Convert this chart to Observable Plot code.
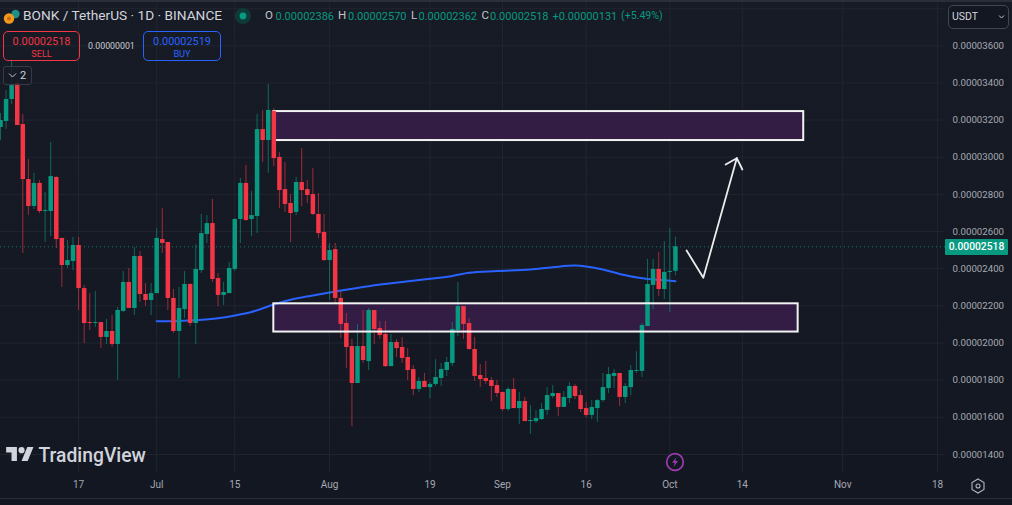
<!DOCTYPE html>
<html>
<head>
<meta charset="utf-8">
<script src="https://cdn.jsdelivr.net/npm/d3@7"></script>
<script src="https://cdn.jsdelivr.net/npm/@observablehq/plot@0.6"></script>
<style>
html,body{margin:0;padding:0;background:#151924;overflow:hidden}
#wrap{position:relative;width:1012px;height:505px;overflow:hidden;background:linear-gradient(#171b26,#131722);font-family:Roboto,sans-serif}
#wrap svg{display:block}
.ov{position:absolute;white-space:nowrap;line-height:1}
.g{color:#089981}
.l{color:#c3c6ce}
.box{position:absolute;box-sizing:border-box;border-radius:5px;text-align:center}
</style>
</head>
<body>
<div id="wrap">
  <div id="chart"></div>
  <div class="ov" style="left:0;top:0;width:1012px;height:2px;background:#2a2e39"></div>
  <div class="ov" style="left:0;top:498px;width:1012px;height:1px;background:#2a2e39"></div>

  <svg class="ov" style="left:3px;top:8px" width="19" height="18"><circle cx="12.5" cy="6" r="4.2" fill="#1f8f8a"/><circle cx="6" cy="10.5" r="5.2" fill="#f39a1d"/><circle cx="6" cy="10.5" r="2" fill="#c96a10"/></svg>
  <div class="ov" id="title" style="left:23px;top:9px;font-size:13.7px;color:#d1d4dc">BONK / TetherUS · 1D · BINANCE</div>
  <svg class="ov" style="left:234px;top:7px" width="18" height="18"><circle cx="9" cy="9" r="8" fill="#0e3a38"/><circle cx="9" cy="9" r="3.4" fill="#089981"/></svg>
  <div class="ov l" style="left:265px;top:10px;font-size:11.5px">O</div>
  <div class="ov g" style="left:275.5px;top:10.5px;font-size:11px">0.00002386</div>
  <div class="ov l" style="left:338px;top:10px;font-size:11.5px">H</div>
  <div class="ov g" style="left:348px;top:10.5px;font-size:11px">0.00002570</div>
  <div class="ov l" style="left:411px;top:10px;font-size:11.5px">L</div>
  <div class="ov g" style="left:418.5px;top:10.5px;font-size:11px">0.00002362</div>
  <div class="ov l" style="left:481.5px;top:10px;font-size:11.5px">C</div>
  <div class="ov g" style="left:490px;top:10.5px;font-size:11px">0.00002518</div>
  <div class="ov g" style="left:552.5px;top:10.5px;font-size:11px">+0.00000131</div>
  <div class="ov g" style="left:621px;top:10.5px;font-size:10.6px">(+5.49%)</div>

  <div class="box" style="left:3px;top:31px;width:77px;height:30px;border:1px solid #f23645;color:#f23645">
    <div style="font-size:10.9px;margin-top:3.5px;line-height:12px">0.00002518</div>
    <div style="font-size:9.2px;line-height:12px">SELL</div>
  </div>
  <div class="ov" style="left:88px;top:42px;font-size:8.8px;color:#c8cad0">0.00000001</div>
  <div class="box" style="left:143px;top:31px;width:78px;height:30px;border:1px solid #2962ff;color:#2962ff">
    <div style="font-size:10.9px;margin-top:3.5px;line-height:12px">0.00002519</div>
    <div style="font-size:9.2px;line-height:12px">BUY</div>
  </div>
  <div class="box" style="left:3px;top:66px;width:29px;height:19px;border:1px solid #363a45;background:#161a25cc;border-radius:3px"></div>
  <svg class="ov" style="left:8px;top:72px" width="10" height="8"><path d="M1 1.5 L4.5 5 L8 1.5" fill="none" stroke="#c3c6ce" stroke-width="1"/></svg>
  <div class="ov" style="left:20px;top:70px;font-size:11px;color:#d1d4dc">2</div>

  <div class="box" style="left:948px;top:5px;width:61px;height:24px;border:1px solid #434651;background:#131722"></div>
  <div class="ov" style="left:952px;top:12px;font-size:10.5px;color:#d1d4dc">USDT</div>
  <svg class="ov" style="left:998px;top:14px" width="9" height="6"><path d="M1 1.5 L3.5 4 L6 1.5" fill="none" stroke="#c3c6ce" stroke-width="1"/></svg>

  <div class="ov" style="left:945px;top:239px;width:63px;height:15.5px;background:#089981;color:#fff;border-radius:1px;text-align:center;font-size:10.3px;line-height:15.5px;font-weight:500">0.00002518</div>

  <svg class="ov" style="left:5.5px;top:444px" width="28" height="20" viewBox="0 0 36 26"><path d="M14 22H7V11H0V4h14v18zM28 22h-8l7.5-18h8L28 22z" fill="#d1d4dc"/><circle cx="20" cy="8" r="4" fill="#d1d4dc"/></svg>
  <div class="ov" style="left:38.5px;top:445.5px;font-size:19.3px;font-weight:500;color:#d1d4dc">TradingView</div>

  <svg class="ov" style="left:664px;top:451px" width="22" height="22"><circle cx="11" cy="11" r="8.3" fill="#131722" stroke="#9c3bb0" stroke-width="1.7"/><path d="M12.5 6 L8 11.8 L10.8 11.8 L9.6 16 L14 10 L11.2 10 Z" fill="#9c3bb0"/></svg>
  <svg class="ov" style="left:970px;top:478px" width="16" height="16"><path d="M8 1 L14 4.5 L14 11.5 L8 15 L2 11.5 L2 4.5 Z" fill="none" stroke="#b2b5be" stroke-width="1.1"/><circle cx="8" cy="8" r="2" fill="none" stroke="#b2b5be" stroke-width="1.1"/></svg>
</div>
<script>
// Daily candles 2024-06-03 .. 2024-10-02, prices in units of 0.00000001 USDT
const firstDay = "2024-06-03";
const opens  = [3160,3193,3311,3397,3176,2880,2735,2859,2708,2708,2891,2563,2417,2439,2525,2293,2110,2105,2110,2030,2062,1992,2170,2326,2186,2466,2261,2229,2266,2557,2541,2240,2062,2180,2315,2105,2390,2584,2643,2347,2256,2266,2396,2665,2859,2665,2681,3149,3090,3246,2999,2826,2751,2703,2864,2826,2799,2692,2595,2444,2503,2240,2105,1981,1782,1981,1900,2175,2078,2046,1873,2003,1976,1922,1857,1750,1793,1760,1777,1809,1852,1890,2067,2196,2105,1965,1825,1809,1798,1771,1734,1642,1750,1647,1685,1577,1577,1588,1637,1712,1728,1653,1701,1766,1717,1647,1610,1647,1690,1755,1820,1836,1707,1760,1847,1847,2089,2310,2396,2288,2380,2386];
const highs  = [3236,3359,3516,3413,3230,2988,2913,2875,2810,3079,2896,2563,2552,2568,2568,2310,2266,2277,2110,2126,2148,2191,2385,2401,2514,2493,2320,2320,2616,2724,2541,2288,2299,2385,2320,2530,2692,2686,2773,2374,2326,2433,2670,2886,2956,2816,3230,3252,3392,3263,3026,2972,2799,2891,3047,2875,2939,2805,2692,2536,2536,2277,2159,2019,2100,2175,2186,2175,2116,2116,2046,2019,2030,1970,1879,1814,1836,1787,1911,1890,1922,2110,2326,2196,2132,2030,1884,1900,1814,1798,1734,1760,1809,1734,1707,1663,1637,1674,1760,1771,1728,1739,1787,1777,1744,1680,1690,1696,1836,1868,1857,1836,1782,1879,1954,2105,2450,2450,2487,2546,2616,2570];
const lows   = [3090,3149,3284,3171,2482,2686,2719,2697,2541,2573,2509,2299,2401,2390,2175,1997,2067,2083,1970,1992,1976,1798,2164,2186,2148,2218,2196,2148,2266,2482,2175,2051,1809,2132,2089,1992,2374,2536,2326,2196,2202,2266,2385,2536,2654,2573,2589,2972,2913,2950,2724,2703,2541,2686,2735,2751,2686,2563,2439,2229,2213,2024,1863,1550,1782,1890,1852,1992,2019,1868,1873,1922,1890,1798,1717,1734,1760,1701,1766,1766,1820,1873,2035,2019,1960,1793,1760,1777,1685,1707,1631,1631,1647,1561,1577,1507,1567,1583,1610,1701,1604,1653,1674,1696,1626,1599,1588,1572,1680,1728,1755,1658,1674,1717,1836,1814,2089,2180,2250,2234,2164,2362];
const closes = [3198,3311,3386,3171,2880,2735,2859,2708,2713,2896,2557,2417,2444,2525,2293,2105,2105,2110,2030,2062,1992,2175,2326,2186,2466,2261,2229,2266,2563,2536,2240,2062,2186,2315,2105,2396,2589,2643,2342,2256,2272,2401,2665,2859,2660,2686,3149,3090,3252,2993,2821,2746,2697,2864,2821,2794,2692,2589,2444,2498,2240,2100,1976,1782,1981,1906,2175,2073,2040,1873,2003,1970,1917,1852,1750,1793,1760,1777,1814,1857,1895,2073,2196,2100,1965,1820,1803,1793,1766,1728,1642,1750,1647,1685,1577,1583,1593,1642,1717,1728,1653,1707,1766,1712,1642,1610,1653,1690,1760,1830,1836,1707,1766,1852,1852,2094,2315,2396,2288,2380,2385,2518];

// Moving average, read at selected days
const maDates  = ["2024-07-01","2024-07-08","2024-07-12","2024-07-15","2024-07-18","2024-07-22","2024-07-25","2024-07-29","2024-08-02","2024-08-08","2024-08-14","2024-08-19","2024-08-23","2024-08-26","2024-08-31","2024-09-06","2024-09-10","2024-09-14","2024-09-16","2024-09-19","2024-09-22","2024-09-26","2024-09-29","2024-10-02"];
const maValues = [2117,2123,2133,2148,2167,2207,2233,2256,2277,2306,2328,2346,2361,2378,2387,2396,2408,2417,2412,2396,2372,2349,2340,2333];

// Zones drawn on the chart
const upperZone = {from:"2024-07-22", to:"2024-10-25", top:3246, bottom:3090};
const lowerZone = {from:"2024-07-22", to:"2024-10-24", top:2211, bottom:2059};

// Projection arrow
const arrowDates  = ["2024-10-04","2024-10-07","2024-10-13"];
const arrowValues = [2498,2351,2995];
const headDates   = ["2024-10-11","2024-10-13","2024-10-14"];
const headValues  = [2961,2995,2934];

// Axes
const lastPrice = 2518;
const priceTicks = [3600,3400,3200,3000,2800,2600,2400,2200,2000,1800,1600,1400];
const priceGrid  = [3800,...priceTicks];
const timeDates  = ["2024-06-17","2024-07-01","2024-07-15","2024-08-01","2024-08-19","2024-09-01","2024-09-16","2024-10-01","2024-10-14","2024-11-01","2024-11-18"];
const timeLabels = ["17","Jul","15","Aug","19","Sep","16","Oct","14","Nov","18"];

const green = "#089981", red = "#f23645", gridColor = "#21252f";
const D = s => new Date(s);
const start = D(firstDay);
const candles = opens.map((o,i)=>({date:d3.utcDay.offset(start,i),open:o,high:highs[i],low:lows[i],close:closes[i]}));
const col = d => d.close >= d.open ? green : red;
const ma = maDates.map((d,i)=>({date:D(d),v:maValues[i]}));
const arrow = arrowDates.map((d,i)=>({date:D(d),v:arrowValues[i]}));
const head = headDates.map((d,i)=>({date:D(d),v:headValues[i]}));
const zone = z => ({x1:D(z.from),x2:D(z.to),y1:z.bottom,y2:z.top});
const tickMap = new Map(timeDates.map((d,i)=>[+D(d),timeLabels[i]]));

const chart = Plot.plot({
  width:1012, height:505,
  marginLeft:0, marginRight:67, marginTop:0, marginBottom:33,
  style:{background:"transparent",fontFamily:"Roboto, sans-serif",overflow:"hidden"},
  x:{type:"utc",domain:[start,D("2024-11-19T10:00:00Z")]},
  y:{type:"linear",domain:[1125.2,3843.9],range:[505,0]},
  marks:[
    Plot.ruleX(timeDates.map(D),{x:d=>d,stroke:gridColor,strokeWidth:1}),
    Plot.ruleY(priceGrid,{y:d=>d,stroke:gridColor,strokeWidth:1}),
    Plot.rect([zone(upperZone)],{x1:"x1",x2:"x2",y1:"y1",y2:"y2",fill:"#331d44",stroke:"#f2f2f2",strokeWidth:2}),
    Plot.rect([zone(lowerZone)],{x1:"x1",x2:"x2",y1:"y1",y2:"y2",fill:"#331d44"}),
    Plot.ruleY([lastPrice],{y:d=>d,stroke:green,strokeWidth:1,strokeDasharray:"1 3",strokeOpacity:0.8}),
    Plot.line(ma,{x:"date",y:"v",stroke:"#2962ff",strokeWidth:2,curve:"monotone-x"}),
    Plot.ruleX(candles,{x:"date",y1:"low",y2:"high",stroke:col,strokeWidth:1,strokeOpacity:0.62}),
    Plot.ruleX(candles,{x:"date",y1:"open",y2:"close",stroke:col,strokeWidth:4.5}),
    Plot.rect([zone(lowerZone)],{x1:"x1",x2:"x2",y1:"y1",y2:"y2",fill:"none",stroke:"#f2f2f2",strokeWidth:2}),
    Plot.line(arrow,{x:"date",y:"v",stroke:"#ececec",strokeWidth:1.8}),
    Plot.line(head,{x:"date",y:"v",stroke:"#ececec",strokeWidth:1.8}),
    Plot.axisY(priceTicks,{anchor:"right",tickSize:0,tickPadding:7,fontSize:9.7,label:null,color:"#a6a9b1",
      tickFormat:d=>(d/1e8).toFixed(8)}),
    Plot.axisX(timeDates.map(D),{anchor:"bottom",tickSize:0,tickPadding:8,fontSize:10,label:null,color:"#a6a9b1",
      tickFormat:d=>tickMap.get(+d)})
  ]
});
document.getElementById("chart").appendChild(chart);
</script>
</body>
</html>
